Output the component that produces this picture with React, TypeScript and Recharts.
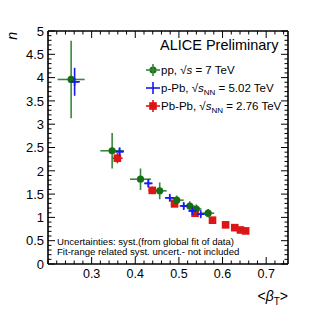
import { ScatterChart, Scatter, XAxis, YAxis, ErrorBar } from 'recharts'

// pp, sqrt(s) = 7 TeV
const ppBeta = [0.253, 0.347, 0.412, 0.456, 0.495, 0.525, 0.54, 0.567]
const ppN = [3.96, 2.43, 1.82, 1.57, 1.37, 1.245, 1.18, 1.09]
const ppErrBeta = [0.031, 0.027, 0.024, 0.016, 0.016, 0.011, 0.012, 0.014]
const ppErrN = [0.83, 0.38, 0.23, 0.18, 0.1, 0.1, 0.1, 0.09]

// p-Pb, sqrt(sNN) = 5.02 TeV
const pPbBeta = [0.261, 0.364, 0.43, 0.479, 0.511, 0.531, 0.55]
const pPbN = [3.91, 2.41, 1.73, 1.42, 1.245, 1.14, 1.07]
const pPbErrBeta = [0.012, 0.009, 0.009, 0.011, 0.007, 0.008, 0.008]
const pPbErrN = [0.3, 0.09, 0.085, 0.06, 0.06, 0.05, 0.05]

// Pb-Pb, sqrt(sNN) = 2.76 TeV
const pbPbBeta = [0.359, 0.439, 0.49, 0.537, 0.577, 0.607, 0.628, 0.641, 0.653]
const pbPbN = [2.27, 1.58, 1.29, 1.09, 0.94, 0.84, 0.78, 0.73, 0.71]
const pbPbErrBeta = [0.012, 0.009, 0.007, 0.005, 0, 0, 0, 0, 0]
const pbPbErrN = [0.11, 0.08, 0.05, 0.04, 0, 0, 0, 0, 0]

const xTicks = [
  0.2, 0.22, 0.24, 0.26, 0.28, 0.3, 0.32, 0.34, 0.36, 0.38, 0.4, 0.42, 0.44, 0.46,
  0.48, 0.5, 0.52, 0.54, 0.56, 0.58, 0.6, 0.62, 0.64, 0.66, 0.68, 0.7, 0.72, 0.74,
]
const xLabels = [0.3, 0.4, 0.5, 0.6, 0.7]
const yTicks = [
  0, 0.1, 0.2, 0.3, 0.4, 0.5, 0.6, 0.7, 0.8, 0.9, 1, 1.1, 1.2, 1.3, 1.4, 1.5, 1.6, 1.7,
  1.8, 1.9, 2, 2.1, 2.2, 2.3, 2.4, 2.5, 2.6, 2.7, 2.8, 2.9, 3, 3.1, 3.2, 3.3, 3.4, 3.5,
  3.6, 3.7, 3.8, 3.9, 4, 4.1, 4.2, 4.3, 4.4, 4.5, 4.6, 4.7, 4.8, 4.9, 5,
]
const yLabels = [0, 0.5, 1, 1.5, 2, 2.5, 3, 3.5, 4, 4.5, 5]

const GREEN = '#156f15'
const GREEN_BAR = '#3a873a'
const BLUE = '#1a1aee'
const RED = '#dc1515'
const FONT = '"Liberation Sans", Arial, sans-serif'

const toRows = (x: number[], y: number[], ex: number[], ey: number[]) =>
  x.map((v, i) => ({ x: v, y: y[i], ex: ex[i], ey: ey[i] }))

const ppData = toRows(ppBeta, ppN, ppErrBeta, ppErrN)
const pPbData = toRows(pPbBeta, pPbN, pPbErrBeta, pPbErrN)
const pbPbData = toRows(pbPbBeta, pbPbN, pbPbErrBeta, pbPbErrN)

const near = (a: number, list: number[]) => list.some((b) => Math.abs(a - b) < 1e-6)

const makeXTick = (top: boolean) => (props: any) => {
  const { x, y, payload } = props
  const major = near(payload.value, xLabels)
  const len = major ? 7 : 3.5
  const dir = top ? 1 : -1
  return (
    <g>
      <line x1={x} x2={x} y1={y} y2={y + dir * len} stroke="#000" strokeWidth={1} />
      {major && !top && (
        <text x={x} y={y + 14} textAnchor="middle" fontSize={12.5} fontFamily={FONT} fill="#000">
          {payload.value}
        </text>
      )}
    </g>
  )
}

const makeYTick = (right: boolean) => (props: any) => {
  const { x, y, payload } = props
  const major = near(payload.value, yLabels)
  const len = major ? 7 : 3.5
  const dir = right ? -1 : 1
  return (
    <g>
      <line x1={x} x2={x + dir * len} y1={y} y2={y} stroke="#000" strokeWidth={1} />
      {major && !right && (
        <text x={x - 4} y={y + 4.7} textAnchor="end" fontSize={13} fontFamily={FONT} fill="#000">
          {payload.value}
        </text>
      )}
    </g>
  )
}

const Circle = (p: any) => <circle cx={p.cx} cy={p.cy} r={3.6} fill={GREEN} />
const Cross = (p: any) => (
  <g stroke={BLUE} strokeWidth={1.6}>
    <line x1={p.cx - 4} x2={p.cx + 4} y1={p.cy} y2={p.cy} />
    <line x1={p.cx} x2={p.cx} y1={p.cy - 4} y2={p.cy + 4} />
  </g>
)
const Square = (p: any) => <rect x={p.cx - 3.8} y={p.cy - 3.8} width={7.6} height={7.6} fill={RED} />

const axisLine = { stroke: '#000', strokeWidth: 1.6 }

export default function App() {
  return (
    <div style={{ position: 'absolute', left: 0, top: 0, width: 321, height: 311, background: '#fff' }}>
      <ScatterChart width={321} height={311} margin={{ top: 30, right: 32, bottom: 46, left: 47 }}>
        <XAxis
          xAxisId="b" dataKey="x" type="number" domain={[0.2, 0.75]} ticks={xTicks} interval={0}
          height={1} tickSize={0} tickMargin={0} axisLine={axisLine} tickLine={false}
          tick={makeXTick(false)} allowDataOverflow
        />
        <XAxis
          xAxisId="t" orientation="top" dataKey="x" type="number" domain={[0.2, 0.75]} ticks={xTicks}
          interval={0} height={1} tickSize={0} tickMargin={0} axisLine={axisLine} tickLine={false}
          tick={makeXTick(true)} allowDataOverflow
        />
        <YAxis
          yAxisId="l" dataKey="y" type="number" domain={[0, 5]} ticks={yTicks} interval={0}
          width={1} tickSize={0} tickMargin={0} axisLine={axisLine} tickLine={false}
          tick={makeYTick(false)} allowDataOverflow
        />
        <YAxis
          yAxisId="r" orientation="right" dataKey="y" type="number" domain={[0, 5]} ticks={yTicks}
          interval={0} width={1} tickSize={0} tickMargin={0} axisLine={axisLine} tickLine={false}
          tick={makeYTick(true)} allowDataOverflow
        />
        <Scatter data={pbPbData} xAxisId="b" yAxisId="l" shape={Square} isAnimationActive={false}>
          <ErrorBar dataKey="ey" direction="y" width={0} stroke={RED} strokeWidth={1.6} />
          <ErrorBar dataKey="ex" direction="x" width={0} stroke={RED} strokeWidth={1.6} />
        </Scatter>
        <Scatter data={ppData} xAxisId="b" yAxisId="l" shape={Circle} isAnimationActive={false}>
          <ErrorBar dataKey="ey" direction="y" width={0} stroke={GREEN_BAR} strokeWidth={1.6} />
          <ErrorBar dataKey="ex" direction="x" width={0} stroke={GREEN_BAR} strokeWidth={1.6} />
        </Scatter>
        <Scatter data={pPbData} xAxisId="b" yAxisId="l" shape={Cross} isAnimationActive={false}>
          <ErrorBar dataKey="ey" direction="y" width={0} stroke={BLUE} strokeWidth={1.6} />
          <ErrorBar dataKey="ex" direction="x" width={0} stroke={BLUE} strokeWidth={1.6} />
        </Scatter>
      </ScatterChart>
      <svg
        width={321}
        height={311}
        style={{ position: 'absolute', left: 0, top: 0, pointerEvents: 'none' }}
        fontFamily={FONT}
      >
        <text x={160} y={50} fontSize={14.5}>ALICE Preliminary</text>

        <circle cx={153} cy={70} r={3.6} fill={GREEN} />
        <line x1={146} x2={160} y1={70} y2={70} stroke={GREEN_BAR} strokeWidth={1.6} />
        <line x1={153} x2={153} y1={64} y2={76} stroke={GREEN_BAR} strokeWidth={1.6} />
        <text x={161} y={74} fontSize={11.5}>
          pp, √<tspan fontStyle="italic">s</tspan> = 7 TeV
        </text>

        <line x1={146} x2={160} y1={88} y2={88} stroke={BLUE} strokeWidth={1.6} />
        <line x1={153} x2={153} y1={82} y2={94} stroke={BLUE} strokeWidth={1.6} />
        <text x={161} y={92} fontSize={11.5}>
          p-Pb, √<tspan fontStyle="italic">s</tspan>
          <tspan fontSize={8} dy={3}>NN</tspan>
          <tspan dy={-3}> = 5.02 TeV</tspan>
        </text>

        <rect x={149.2} y={102.2} width={7.6} height={7.6} fill={RED} />
        <line x1={146} x2={160} y1={106} y2={106} stroke={RED} strokeWidth={1.6} />
        <line x1={153} x2={153} y1={100} y2={112} stroke={RED} strokeWidth={1.6} />
        <text x={161} y={110} fontSize={11.5}>
          Pb-Pb, √<tspan fontStyle="italic">s</tspan>
          <tspan fontSize={8} dy={3}>NN</tspan>
          <tspan dy={-3}> = 2.76 TeV</tspan>
        </text>

        <text x={57} y={245} fontSize={9.6}>Uncertainties: syst.(from global fit of data)</text>
        <text x={57} y={255} fontSize={9.6}>Fit-range related syst. uncert.- not included</text>

        <text x={17} y={32} fontSize={14} fontStyle="italic" transform="rotate(-90 17 32)" textAnchor="end">
          n
        </text>
        <text x={288} y={301} fontSize={14} textAnchor="end">
          &lt;<tspan fontStyle="italic">β</tspan>
          <tspan fontSize={10} dy={4}>T</tspan>
          <tspan dy={-4}>&gt;</tspan>
        </text>
      </svg>
    </div>
  )
}
